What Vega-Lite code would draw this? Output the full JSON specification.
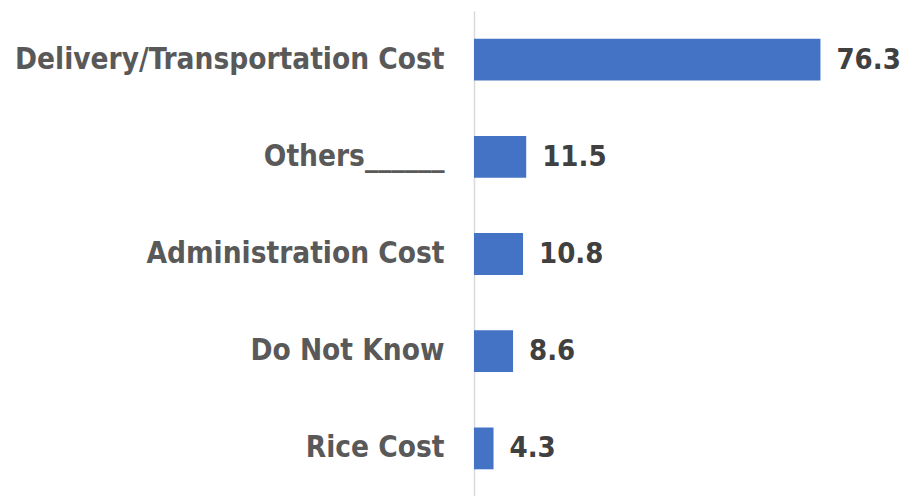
{
  "$schema": "https://vega.github.io/schema/vega-lite/v6.json",
  "autosize": "none",
  "width": 435,
  "height": 486,
  "padding": {"left": 474, "top": 11, "right": 0, "bottom": 0},
  "background": "white",
  "config": {"view": {"stroke": null}},
  "data": {"values": [
    {"category": "Delivery/Transportation Cost", "value": 76.3},
    {"category": "Others______", "value": 11.5},
    {"category": "Administration Cost", "value": 10.8},
    {"category": "Do Not Know", "value": 8.6},
    {"category": "Rice Cost", "value": 4.3}
  ]},
  "encoding": {
    "y": {"field": "category", "type": "nominal", "sort": null,
      "scale": {"paddingInner": 0.57, "paddingOuter": 0.285},
      "axis": {"title": null, "ticks": false, "domain": true, "domainColor": "#d9d9d9", "domainWidth": 1.5,
        "labelFont": "DejaVu Sans Condensed", "labelFontWeight": "bold", "labelFontSize": 29.5,
        "labelColor": "#595959", "labelPadding": 30, "labelLimit": 600}},
    "x": {"field": "value", "type": "quantitative", "scale": {"domain": [0, 95.8]}, "axis": null}
  },
  "layer": [
    {"mark": {"type": "bar", "color": "#4472c4"}},
    {"mark": {"type": "text", "align": "left", "dx": 16, "font": "DejaVu Sans Condensed", "fontWeight": "bold", "fontSize": 29, "color": "#404040"},
     "encoding": {"text": {"field": "value", "type": "quantitative", "format": ".1f"}}}
  ]
}
